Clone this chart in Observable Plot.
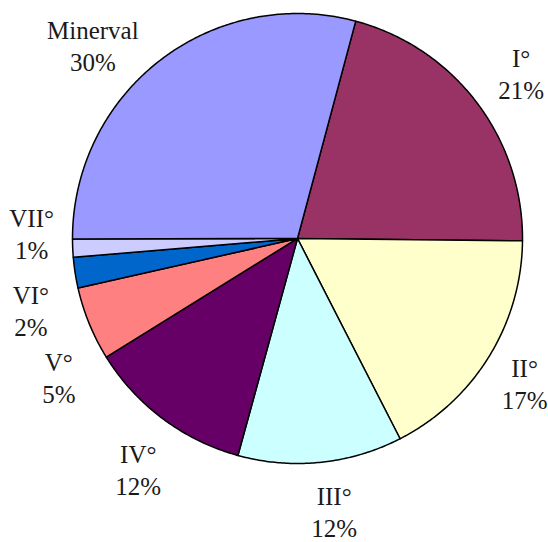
<!DOCTYPE html>
<html>
<head>
<meta charset="utf-8">
<script src="https://cdn.jsdelivr.net/npm/d3@7"></script>
<script src="https://cdn.jsdelivr.net/npm/@observablehq/plot@0.6"></script>
<style>
  html, body { margin: 0; padding: 0; background: #fff; }
  #chart svg text { font-family: "Liberation Serif", "Times New Roman", serif; }
</style>
</head>
<body>
<div id="chart"></div>
<script>
// Slices in clockwise order (starting from the Minerval / I° boundary)
const names = ["I°", "II°", "III°", "IV°", "V°", "VI°", "VII°", "Minerval"];
const shares = [21, 17.3, 11.8, 11.9, 5.3, 2.2, 1.3, 29.2];
const pctLabels = ["21%", "17%", "12%", "12%", "5%", "2%", "1%", "30%"];
const colors = ["#993366", "#FFFFCC", "#CCFFFF", "#660066", "#FF8080", "#0066CC", "#CCCCFF", "#9999FF"];
const startDeg = 15;

const start = startDeg * Math.PI / 180;
const arcs = d3.pie().sort(null).startAngle(start).endAngle(start + 2 * Math.PI)(shares);

// polygon outline for each slice (unit circle, y up)
const pts = [];
arcs.forEach((a, i) => {
  pts.push({name: names[i], x: 0, y: 0});
  const n = Math.max(2, Math.ceil((a.endAngle - a.startAngle) / (Math.PI / 360)));
  for (let k = 0; k <= n; k++) {
    const t = a.startAngle + (a.endAngle - a.startAngle) * k / n;
    pts.push({name: names[i], x: Math.sin(t), y: Math.cos(t)});
  }
});

// label layout: polar nudges (degrees, radius factor) from each slice's mid-angle
const labelAngleNudge = [0.7, 0.7, -1.8, -2.1, -7.9, -6.3, 3.8, -9.0];
const labelRadius = [1.236, 1.196, 1.22, 1.244, 1.227, 1.227, 1.182, 1.253];
const labels = arcs.map((a, i) => {
  const m = (a.startAngle + a.endAngle) / 2 + labelAngleNudge[i] * Math.PI / 180;
  return {name: names[i], text: names[i] + "\n" + pctLabels[i], x: labelRadius[i] * Math.sin(m), y: labelRadius[i] * Math.cos(m)};
});

const chart = Plot.plot({
  width: 548,
  height: 542,
  marginLeft: 72,
  marginRight: 26,
  marginTop: 13,
  marginBottom: 79,
  x: {domain: [-1, 1], axis: null},
  y: {domain: [-1, 1], axis: null},
  color: {domain: names, range: colors},
  style: {background: "#fff"},
  marks: [
    Plot.line(pts, {x: "x", y: "y", z: "name", fill: "name", stroke: "#000", strokeWidth: 1.5, curve: "linear-closed", strokeLinejoin: "round"}),
    Plot.text(labels, {x: "x", y: "y", text: "text", fontSize: 25, lineHeight: 1.28, fill: "#1a1a1a", textAnchor: "middle", fontFamily: "Liberation Serif"})
  ]
});
document.getElementById("chart").appendChild(chart);
</script>
</body>
</html>
